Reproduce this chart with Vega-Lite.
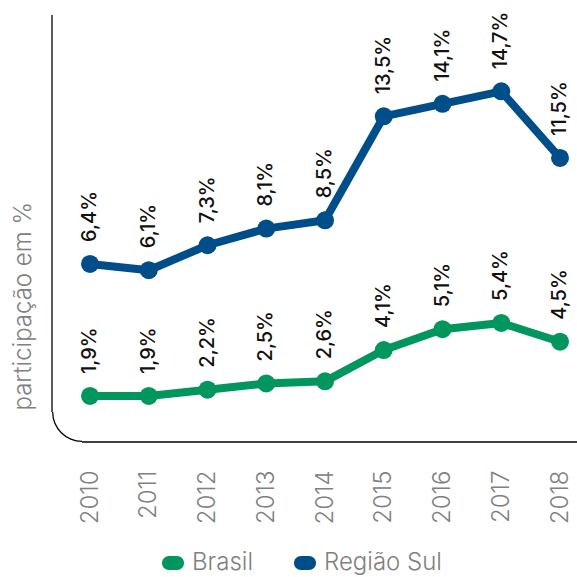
{
  "$schema": "https://vega.github.io/schema/vega-lite/v6.json",
  "width": 525,
  "height": 427,
  "autosize": {"type": "none"},
  "padding": {"left": 52, "top": 15, "right": 0, "bottom": 135},
  "config": {
    "view": {"stroke": null},
    "font": "Inter",
    "locale": {"number": {"decimal": ",", "thousands": ".", "grouping": [3], "currency": ["", "%"]}}
  },
  "data": {
    "values": [
      {"year": 2010, "serie": "Brasil", "v": 1.9},
      {"year": 2011, "serie": "Brasil", "v": 1.9},
      {"year": 2012, "serie": "Brasil", "v": 2.2},
      {"year": 2013, "serie": "Brasil", "v": 2.5},
      {"year": 2014, "serie": "Brasil", "v": 2.6},
      {"year": 2015, "serie": "Brasil", "v": 4.1},
      {"year": 2016, "serie": "Brasil", "v": 5.1},
      {"year": 2017, "serie": "Brasil", "v": 5.4},
      {"year": 2018, "serie": "Brasil", "v": 4.5},
      {"year": 2010, "serie": "Região Sul", "v": 6.4},
      {"year": 2011, "serie": "Região Sul", "v": 6.1},
      {"year": 2012, "serie": "Região Sul", "v": 7.3},
      {"year": 2013, "serie": "Região Sul", "v": 8.1},
      {"year": 2014, "serie": "Região Sul", "v": 8.5},
      {"year": 2015, "serie": "Região Sul", "v": 13.5},
      {"year": 2016, "serie": "Região Sul", "v": 14.1},
      {"year": 2017, "serie": "Região Sul", "v": 14.7},
      {"year": 2018, "serie": "Região Sul", "v": 11.5}
    ]
  },
  "layer": [
    {
      "data": {"values": [{"frame": "corner"}]},
      "layer": [
        {
          "mark": {"type": "rule", "color": "#000000", "strokeWidth": 1.3},
          "encoding": {
            "x": {"datum": 2009.353, "type": "quantitative", "scale": {"domain": [2009.353, 2018.289], "nice": false, "zero": false}},
            "y": {"datum": 20.16, "type": "quantitative", "scale": {"domain": [-0.307, 20.16], "nice": false, "zero": false}, "axis": null},
            "y2": {"datum": 1.131}
          }
        },
        {
          "mark": {"type": "rule", "color": "#000000", "strokeWidth": 1.3},
          "encoding": {
            "x": {"datum": 2009.864, "type": "quantitative"},
            "x2": {"datum": 2018.289},
            "y": {"datum": -0.307, "type": "quantitative", "axis": null}
          }
        },
        {
          "mark": {"type": "arc", "color": "#000000", "theta": 3.14159, "theta2": 4.71239, "innerRadius": 28.7, "outerRadius": 30},
          "encoding": {
            "x": {"datum": 2009.864, "type": "quantitative"},
            "y": {"datum": 1.131, "type": "quantitative", "axis": null}
          }
        }
      ]
    },
    {
      "transform": [{"filter": "datum.serie === 'Brasil'"}],
      "encoding": {
        "x": {
          "field": "year",
          "type": "quantitative",
          "axis": {
            "values": [2010, 2011, 2012, 2013, 2014, 2015, 2016, 2017, 2018],
            "format": "d",
            "labelAngle": -90,
            "labelPadding": 28,
            "labelFlush": false,
            "labelOverlap": false,
            "ticks": false,
            "domain": false,
            "grid": false,
            "title": null,
            "labelFont": "Inter",
            "labelFontSize": 24,
            "labelFontWeight": 300,
            "labelColor": "#808080"
          }
        },
        "y": {
          "field": "v",
          "type": "quantitative",
          "scale": {"domain": [-0.307, 20.16], "nice": false, "zero": false},
          "axis": {
            "orient": "left",
            "domain": false,
            "ticks": false,
            "labels": false,
            "grid": false,
            "title": "participação em %",
            "titleFont": "Inter",
            "titleFontSize": 24,
            "titleFontWeight": 300,
            "titleColor": "#808080",
            "titleAngle": 270,
            "titleAlign": "left",
            "titleBaseline": "alphabetic",
            "titleX": -22,
            "titleY": 395
          }
        }
      },
      "layer": [
        {"mark": {"type": "line", "color": "#00965e", "strokeWidth": 8, "strokeJoin": "round"}, "encoding": {}},
        {
          "mark": {"type": "point", "filled": true, "size": 324, "opacity": 1, "shape": "circle"},
          "encoding": {
            "color": {
              "field": "serie",
              "type": "nominal",
              "scale": {"domain": ["Brasil", "Região Sul"], "range": ["#00965e", "#004e89"]},
              "legend": {
                "orient": "none",
                "legendX": 109,
                "legendY": 536,
                "direction": "horizontal",
                "title": null,
                "symbolType": "M-0.364,-0.636L0.364,-0.636A0.636,0.636,0,0,1,0.364,0.636L-0.364,0.636A0.636,0.636,0,0,1,-0.364,-0.636Z",
                "symbolSize": 484,
                "symbolStrokeWidth": 0,
                "symbolOpacity": 1,
                "labelFont": "Inter",
                "labelFontSize": 24,
                "labelFontWeight": 300,
                "labelColor": "#808080",
                "labelOffset": 7,
                "columnPadding": 40
              }
            }
          }
        },
        {
          "mark": {"type": "text", "angle": 270, "align": "left", "baseline": "middle", "yOffset": -22, "font": "Inter", "fontSize": 20, "fontWeight": 500, "color": "#111111"},
          "encoding": {"text": {"field": "v", "type": "quantitative", "format": "$.1f"}}
        }
      ]
    },
    {
      "transform": [{"filter": "datum.serie === 'Região Sul'"}],
      "encoding": {
        "x": {"field": "year", "type": "quantitative"},
        "y": {
          "field": "v",
          "type": "quantitative",
          "scale": {"domain": [-2.16, 18.37], "nice": false, "zero": false},
          "axis": null
        }
      },
      "layer": [
        {"mark": {"type": "line", "color": "#004e89", "strokeWidth": 8, "strokeJoin": "round"}, "encoding": {}},
        {
          "mark": {"type": "point", "filled": true, "size": 324, "opacity": 1, "shape": "circle"},
          "encoding": {
            "color": {"field": "serie", "type": "nominal"}
          }
        },
        {
          "mark": {"type": "text", "angle": 270, "align": "left", "baseline": "middle", "yOffset": -22, "font": "Inter", "fontSize": 20, "fontWeight": 500, "color": "#111111"},
          "encoding": {"text": {"field": "v", "type": "quantitative", "format": "$.1f"}}
        }
      ]
    }
  ],
  "resolve": {"scale": {"y": "independent"}}
}
